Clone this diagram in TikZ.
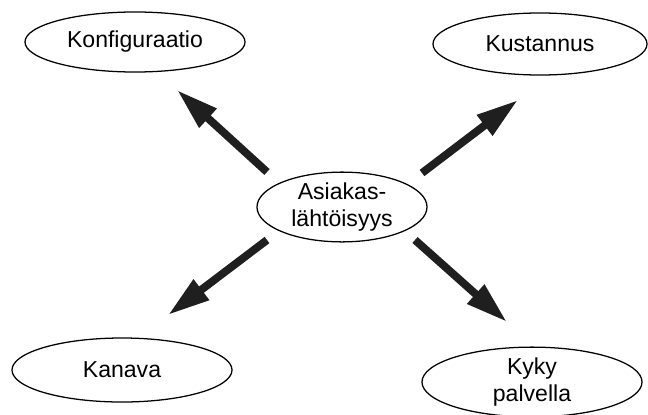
\documentclass[tikz,border=0pt]{standalone}
\usepackage{fontspec}
\setmainfont{Liberation Sans}
\usetikzlibrary{shapes.geometric, arrows.meta, positioning}

\begin{document}
\begin{tikzpicture}[x=0.025cm, y=-0.025cm,
    font=\fontsize{16.4}{19.8}\selectfont,
    blob/.style={ellipse, draw, line width=0.9pt, inner sep=0pt, align=center},
    bigarrow/.style={line width=5.6pt, black!88, -{Triangle[length=1.05cm, width=0.6cm]}}]
    \useasboundingbox (0,0) rectangle (648,414);

    % Centre node
    \node[blob, minimum width=4.25cm, minimum height=1.68cm] (asia) at (342,207) {Asiakas-\\l\"aht\"oisyys};

    % Outer nodes
    \node[blob, minimum width=5.5cm, minimum height=1.5cm] (konf) at (135,42) {Konfiguraatio};
    \node[blob, minimum width=5.35cm, minimum height=1.55cm] (kust) at (540,44) {Kustannus};
    \node[blob, minimum width=5.5cm, minimum height=1.6cm] (kana) at (122,370) {Kanava};
    \node[blob, minimum width=5.5cm, minimum height=1.6cm] (kyky) at (532,382) {Kyky\\palvella};

    % Arrow ends (tail / tip)
    \coordinate (ul0) at (267,172); \coordinate (ul1) at (177,90);
    \coordinate (ur0) at (422,173); \coordinate (ur1) at (518,100);
    \coordinate (ll0) at (267,240); \coordinate (ll1) at (168,315);
    \coordinate (lr0) at (415,240); \coordinate (lr1) at (507,322);

    % Arrows out of the centre
    \foreach \a in {ul, ur, ll, lr} {
        \draw[bigarrow] (\a0) -- (\a1);
    }
\end{tikzpicture}
\end{document}
